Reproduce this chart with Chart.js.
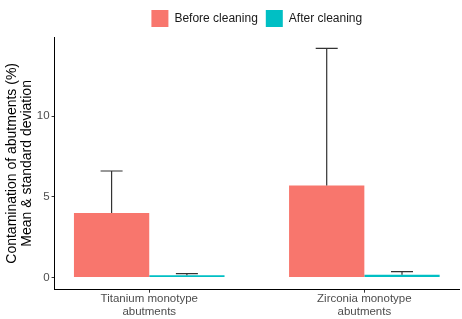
<!DOCTYPE html>
<html>
<head>
<meta charset="utf-8">
<script src="https://cdn.jsdelivr.net/npm/chart.js@4.4.1/dist/chart.umd.min.js"></script>
<style>
  html, body { margin: 0; padding: 0; background: #fff; }
  #wrap { width: 462px; height: 319px; }
</style>
</head>
<body>
<div id="wrap"><canvas id="c" width="462" height="319"></canvas></div>
<script>
const categories = [['Titanium monotype', 'abutments'], ['Zirconia monotype', 'abutments']];
const seriesNames = ['Before cleaning', 'After cleaning'];
const beforeMean = [4.0, 5.7];
const beforeSd = [2.6, 8.5];
const afterMean = [0.15, 0.18];
const afterSd = [0.1, 0.19];
const yTicks = [0, 5, 10];

const FONT = "'Liberation Sans', Arial, sans-serif";

// draws the upper half of each error bar (the lower half sits behind the bar)
const errorBars = {
    id: 'errorBars',
    afterDatasetsDraw(chart) {
        const ctx = chart.ctx;
        const y = chart.scales.y;
        const sds = [beforeSd, afterSd];
        ctx.save();
        ctx.strokeStyle = '#333333';
        ctx.lineWidth = 1.2;
        chart.data.datasets.forEach((ds, di) => {
            const meta = chart.getDatasetMeta(di);
            meta.data.forEach((bar, i) => {
                const mean = ds.data[i].y;
                const top = y.getPixelForValue(mean + sds[di][i]);
                const base = y.getPixelForValue(mean);
                ctx.beginPath();
                ctx.moveTo(bar.x, base);
                ctx.lineTo(bar.x, top);
                ctx.moveTo(bar.x - 11, top);
                ctx.lineTo(bar.x + 11, top);
                ctx.stroke();
            });
        });
        ctx.restore();
    }
};

new Chart(document.getElementById('c'), {
    type: 'bar',
    data: {
        datasets: [
            {
                label: seriesNames[0],
                data: beforeMean.map((v, i) => ({ x: i, y: v })),
                backgroundColor: '#F8766D'
            },
            {
                label: seriesNames[1],
                data: afterMean.map((v, i) => ({ x: i, y: v })),
                backgroundColor: '#00BFC4'
            }
        ]
    },
    options: {
        responsive: false,
        animation: false,
        layout: { padding: { top: 2, right: 3, left: 4, bottom: 1 } },
        categoryPercentage: 0.7,
        barPercentage: 1.0,
        plugins: {
            tooltip: { enabled: false },
            legend: {
                position: 'top',
                fullSize: false,
                labels: {
                    boxWidth: 17,
                    boxHeight: 17,
                    padding: 8,
                    color: '#1a1a1a',
                    font: { family: FONT, size: 12 }
                }
            }
        },
        scales: {
            x: {
                type: 'linear',
                offset: false,
                min: -0.44,
                max: 1.44,
                afterBuildTicks: (s) => { s.ticks = [{ value: 0 }, { value: 1 }]; },
                ticks: {
                    callback: (v) => categories[v] || '',
                    color: '#4d4d4d',
                    padding: 0,
                    maxRotation: 0,
                    font: { family: FONT, size: 11.5, lineHeight: 1.1 }
                },
                grid: { offset: false, drawOnChartArea: false, drawTicks: true, tickLength: 3, tickColor: '#333333' },
                border: { display: true, color: '#000000', width: 1 }
            },
            y: {
                min: -0.75,
                max: 14.9,
                afterBuildTicks: (s) => { s.ticks = yTicks.map(v => ({ value: v })); },
                ticks: {
                    color: '#4d4d4d',
                    padding: 2,
                    font: { family: FONT, size: 11.5 }
                },
                grid: { drawOnChartArea: false, drawTicks: true, tickLength: 3, tickColor: '#333333' },
                border: { display: true, color: '#000000', width: 1 },
                title: {
                    display: true,
                    text: ['Contamination of abutments (%)', 'Mean & standard deviation'],
                    color: '#000000',
                    padding: { top: 0, bottom: 0 },
                    font: { family: FONT, size: 14, lineHeight: 1.1 }
                }
            }
        }
    },
    plugins: [errorBars]
});
</script>
</body>
</html>
